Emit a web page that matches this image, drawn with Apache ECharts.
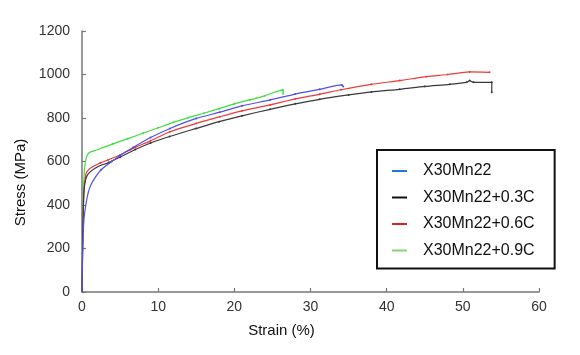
<!DOCTYPE html>
<html>
<head>
<meta charset="utf-8">
<script src="https://cdn.jsdelivr.net/npm/echarts@6/dist/echarts.min.js"></script>
<style>html,body{margin:0;padding:0;background:#fff}#c{width:580px;height:355px}</style>
</head>
<body>
<div id="c"></div>
<script>
var seriesNames = ['X30Mn22', 'X30Mn22+0.3C', 'X30Mn22+0.6C', 'X30Mn22+0.9C'];
var xTicks = [0, 10, 20, 30, 40, 50, 60];
var yTicks = [0, 200, 400, 600, 800, 1000, 1200];

var base = [[0,0],[0.1,200],[0.25,330],[0.5,400],[0.8,455],[1.2,495],[1.7,525],[2.5,562],[3.9,600],[5,628],[6.7,664],[9,710],[11.55,752],[15,798],[18.1,827],[21,856],[24.7,883],[28,910],[31.2,932],[34.1,952],[34.3,945]];
var c03 = [[0,0],[0.1,250],[0.2,420],[0.35,495],[0.6,530],[1,550],[2,575],[3.5,595],[5,620],[7,655],[9,685],[11.5,715],[15,752],[18,783],[21,810],[24.7,840],[28,865],[31.2,886],[35,906],[38,920],[41.7,932],[45,945],[48.3,955],[50.5,964],[50.9,972],[51.4,964],[53.8,964],[53.8,918]];
var c06 = [[0,0],[0.1,250],[0.25,450],[0.5,540],[0.8,560],[1.5,578],[2.4,593],[3.4,607],[5,630],[7,665],[9,695],[11.55,737],[15,775],[18.1,806],[21,833],[24.7,860],[28,888],[31.2,909],[34,930],[38,955],[41.7,972],[45.2,990],[48,1000],[50.9,1012],[53.5,1010]];
var c09 = [[0,0],[0.1,300],[0.25,520],[0.45,600],[0.7,630],[1,642],[2,654],[4,680],[6,705],[8,730],[10,755],[12,780],[14,802],[16,822],[18,843],[20,865],[22,883],[24,902],[26.3,928],[26.4,928],[26.4,912]];

var lineColors = ['#5050ea', '#3a3a3a', '#ee3a3a', '#3ede3e'];
var legendColors = ['#2a78cc', '#111111', '#e02222', '#90d070'];
var allData = [base, c03, c06, c09];

var font = 'Liberation Sans, Arial, sans-serif';
var chart = echarts.init(document.getElementById('c'), null, {renderer: 'canvas'});

var series = seriesNames.map(function (n, i) {
  return {
    name: n, type: 'line', data: allData[i],
    showSymbol: true, symbol: 'circle',
    symbolSize: function (v) { return v[0] > 2 ? 2 : 0; },
    smooth: 0.25,
    itemStyle: {color: lineColors[i]},
    lineStyle: {color: lineColors[i], width: 1.2},
    animation: false, z: 2 + (3 - i)
  };
});

chart.setOption({
  animation: false,
  textStyle: {fontFamily: font},
  grid: {left: 82, right: 41, top: 31, bottom: 63},
  legend: {
    orient: 'vertical', left: 377, top: 150,
    padding: [13, 20, 10, 15],
    borderColor: '#111', borderWidth: 2,
    itemWidth: 15, itemHeight: 2, itemGap: 10.5,
    icon: 'rect',
    textStyle: {fontFamily: font, fontSize: 16, color: '#111', lineHeight: 14, padding: [0, 0, 0, 11]},
    data: seriesNames.map(function (n, i) {
      return {name: n, itemStyle: {color: legendColors[i]}};
    })
  },
  xAxis: {
    type: 'value', min: 0, max: 60, interval: 10,
    name: 'Strain (%)', nameLocation: 'middle', nameGap: 31,
    nameTextStyle: {fontFamily: font, fontSize: 15, color: '#111', padding: [0, 58, 0, 0]},
    axisLine: {show: true, lineStyle: {color: '#777', width: 1.5}},
    axisTick: {show: true, inside: true, length: 4, lineStyle: {color: '#777', width: 1.2}},
    axisLabel: {fontFamily: font, fontSize: 14, color: '#333', margin: 8,
      formatter: function (v) { return xTicks.indexOf(v) >= 0 ? String(v) : ''; }},
    splitLine: {show: false}
  },
  yAxis: {
    type: 'value', min: 0, max: 1200, interval: 200,
    name: 'Stress (MPa)', nameLocation: 'middle', nameGap: 46,
    nameTextStyle: {fontFamily: font, fontSize: 15, color: '#111', padding: [0, 42, 0, 0]},
    axisLine: {show: true, lineStyle: {color: '#777', width: 1.5}},
    axisTick: {show: true, inside: true, length: 4, lineStyle: {color: '#777', width: 1.2}},
    axisLabel: {fontFamily: font, fontSize: 14, color: '#333', margin: 12,
      formatter: function (v) { return yTicks.indexOf(v) >= 0 ? String(v) : ''; }},
    splitLine: {show: false}
  },
  series: series
});
</script>
</body>
</html>
